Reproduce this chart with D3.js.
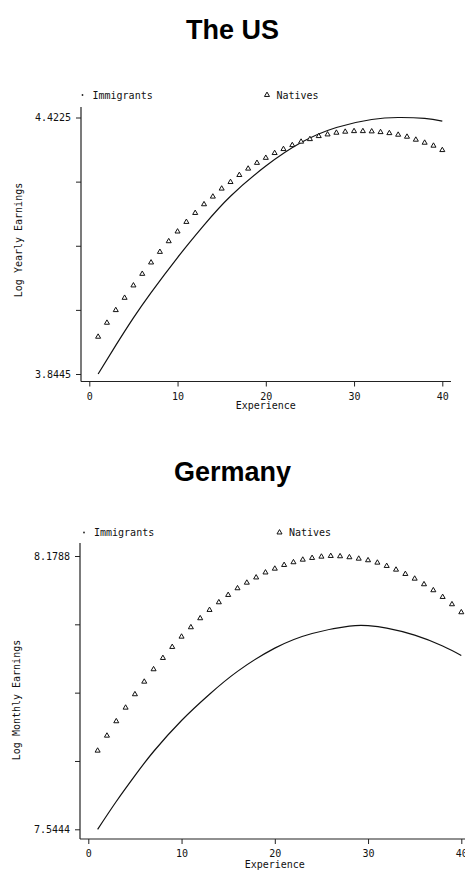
<!DOCTYPE html>
<html>
<head>
<meta charset="utf-8">
<script src="https://cdn.jsdelivr.net/npm/d3@7"></script>
<style>
  body { margin: 0; background: #fff; }
  svg text { font-family: "DejaVu Sans Mono", monospace; fill: #111; }
</style>
</head>
<body>
<div id="chart"></div>
<script>
// Data

const experience = [1, 2, 3, 4, 5, 6, 7, 8, 9, 10, 11, 12, 13, 14, 15, 16, 17, 18, 19, 20,
    21, 22, 23, 24, 25, 26, 27, 28, 29, 30, 31, 32, 33, 34, 35, 36, 37, 38, 39, 40];

const usNatives = [3.9284, 3.9599, 3.9884, 4.0161, 4.0440, 4.0701, 4.0957, 4.1196, 4.1436, 4.1655,
    4.1871, 4.2073, 4.2269, 4.2442, 4.2622, 4.2770, 4.2928, 4.3072, 4.3202, 4.3315,
    4.3423, 4.3513, 4.3602, 4.3679, 4.3737, 4.3805, 4.3843, 4.3881, 4.3904, 4.3917,
    4.3917, 4.3911, 4.3895, 4.3872, 4.3836, 4.3791, 4.3724, 4.3656, 4.3589, 4.3490];

const usImmExperience = [1, 3, 5, 7, 10, 13, 16, 20, 24, 28, 32, 35, 38, 40];
const usImmigrants = [3.8445, 3.909, 3.971, 4.028, 4.107, 4.180, 4.245, 4.313, 4.366, 4.400, 4.418, 4.4225, 4.4205, 4.4145];

const deNatives = [7.7269, 7.7617, 7.7951, 7.8267, 7.8578, 7.8870, 7.9158, 7.9420, 7.9676, 7.9915,
    8.0133, 8.0342, 8.0535, 8.0713, 8.0883, 8.1038, 8.1168, 8.1289, 8.1405, 8.1493,
    8.1579, 8.1642, 8.1702, 8.1742, 8.1772, 8.1788, 8.1781, 8.1758, 8.1725, 8.1688,
    8.1633, 8.1556, 8.1470, 8.1370, 8.1261, 8.1131, 8.0992, 8.0836, 8.0667, 8.0481];

const deImmExperience = [1, 3, 5, 7, 10, 13, 16, 20, 24, 28, 30, 32, 35, 38, 40];
const deImmigrants = [7.5444, 7.609, 7.669, 7.725, 7.797, 7.858, 7.911, 7.965, 7.999, 8.016, 8.017, 8.0115, 7.995, 7.970, 7.948];

const xTicks = [0, 10, 20, 30, 40];
const usYTicks = [3.8445, 3.989, 4.1335, 4.278, 4.4225];
const deYTicks = [7.5444, 7.703, 7.8616, 8.0202, 8.1788];
const legendLabels = ["Immigrants", "Natives"];

const width = 465;
const height = 873;

const svg = d3.select("#chart")
    .append("svg")
    .attr("width", width)
    .attr("height", height);

svg.append("rect").attr("width", width).attr("height", height).attr("fill", "#fff");

const panels = [
    {
        title: "The US", ylabel: "Log Yearly Earnings",
        natives: usNatives, immExp: usImmExperience, immigrants: usImmigrants, yTicks: usYTicks,
        titleY: 39, legendY: 95, legendImmX: 82.5, legendNatX: 267,
        axisX: 81, axisY: 381.5, axisTop: 107, axisRight: 451,
        xRange: [89.3, 442.3], yRange: [374, 117.5],
        ylabelX: 18, ylabelY: 240, xlabelY: 409
    },
    {
        title: "Germany", ylabel: "Log Monthly Earnings",
        natives: deNatives, immExp: deImmExperience, immigrants: deImmigrants, yTicks: deYTicks,
        titleY: 481, legendY: 532.5, legendImmX: 84, legendNatX: 279.5,
        axisX: 80, axisY: 839, axisTop: 543, axisRight: 465,
        xRange: [88.3, 461.3], yRange: [829.3, 556],
        ylabelX: 16, ylabelY: 700, xlabelY: 868
    }
];

const triangle = d3.symbol().type(d3.symbolTriangle).size(11);

panels.forEach(p => {
    const g = svg.append("g");

    const x = d3.scaleLinear().domain([0, 40]).range(p.xRange);
    const y = d3.scaleLinear().domain([p.yTicks[0], p.yTicks[4]]).range(p.yRange);

    // Title
    g.append("text")
        .attr("x", width / 2)
        .attr("y", p.titleY)
        .attr("text-anchor", "middle")
        .style("font-family", "'Liberation Sans', Arial, sans-serif")
        .style("font-weight", "bold")
        .style("font-size", "27px")
        .style("fill", "#000")
        .text(p.title);

    // Legend
    g.append("circle")
        .attr("cx", p.legendImmX)
        .attr("cy", p.legendY)
        .attr("r", 0.9)
        .attr("fill", "#222");
    g.append("text")
        .attr("x", p.legendImmX + 10)
        .attr("y", p.legendY + 3.5)
        .style("font-size", "10px")
        .text(legendLabels[0]);
    g.append("path")
        .attr("d", triangle)
        .attr("transform", `translate(${p.legendNatX},${p.legendY})`)
        .attr("fill", "#fff")
        .attr("stroke", "#111")
        .attr("stroke-width", 1);
    g.append("text")
        .attr("x", p.legendNatX + 9.5)
        .attr("y", p.legendY + 3.5)
        .style("font-size", "10px")
        .text(legendLabels[1]);

    // Axes
    const yAxis = g.append("g")
        .attr("transform", `translate(${p.axisX},0)`)
        .call(d3.axisLeft(y).tickValues(p.yTicks).tickSize(5).tickPadding(5)
            .tickFormat((d, i) => (i === 0 || i === p.yTicks.length - 1) ? d3.format(".4f")(d) : ""));
    yAxis.select(".domain").remove();

    const xAxis = g.append("g")
        .attr("transform", `translate(0,${p.axisY})`)
        .call(d3.axisBottom(x).tickValues(xTicks).tickSize(5).tickPadding(6));
    xAxis.select(".domain").remove();

    [yAxis, xAxis].forEach(a => {
        a.selectAll("text").style("font-size", "10px").style("font-family", "'DejaVu Sans Mono', monospace").attr("fill", "#111");
        a.selectAll("line").attr("stroke", "#222");
    });

    g.append("line")
        .attr("x1", p.axisX).attr("x2", p.axisX)
        .attr("y1", p.axisTop).attr("y2", p.axisY)
        .attr("stroke", "#222").attr("stroke-width", 1.2);
    g.append("line")
        .attr("x1", p.axisX).attr("x2", p.axisRight)
        .attr("y1", p.axisY).attr("y2", p.axisY)
        .attr("stroke", "#222").attr("stroke-width", 1.2);

    // Axis titles
    g.append("text")
        .attr("transform", `translate(${p.ylabelX},${p.ylabelY}) rotate(-90)`)
        .attr("text-anchor", "middle")
        .attr("dy", "0.35em")
        .style("font-size", "10px")
        .text(p.ylabel);

    g.append("text")
        .attr("x", x(20))
        .attr("y", p.xlabelY)
        .attr("text-anchor", "middle")
        .style("font-size", "10px")
        .text("Experience");

    // Immigrants fitted line
    const line = d3.line()
        .x((d, i) => x(p.immExp[i]))
        .y(d => y(d))
        .curve(d3.curveNatural);

    g.append("path")
        .datum(p.immigrants)
        .attr("d", line)
        .attr("fill", "none")
        .attr("stroke", "#111")
        .attr("stroke-width", 1.2);

    // Natives markers
    g.append("g")
        .selectAll("path")
        .data(p.natives)
        .enter()
        .append("path")
        .attr("d", triangle)
        .attr("transform", (d, i) => `translate(${x(experience[i])},${y(d)})`)
        .attr("fill", "#fff")
        .attr("stroke", "#111")
        .attr("stroke-width", 1);
});
</script>
</body>
</html>
